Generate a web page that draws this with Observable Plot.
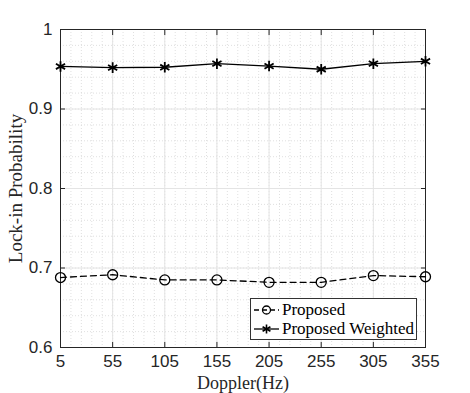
<!DOCTYPE html>
<html><head><meta charset="utf-8">
<script src="https://cdn.jsdelivr.net/npm/d3@7"></script>
<script src="https://cdn.jsdelivr.net/npm/@observablehq/plot@0.6"></script>
<style>
body{margin:0;background:#fff;}
#wrap{position:relative;width:470px;height:393px;}
svg text{font-family:"Liberation Sans",Arial,sans-serif;}
g[aria-label="x-axis label"] text{font-family:"Liberation Serif","DejaVu Serif",serif;font-size:18px;}
g[aria-label="y-axis label"] text{font-family:"Liberation Serif","DejaVu Serif",serif;font-size:19px;}
#legend{position:absolute;left:250px;top:298px;width:167px;height:42px;border:1px solid #333;background:#fff;box-sizing:border-box;font-family:"Liberation Serif","DejaVu Serif",serif;font-size:17px;padding-top:1px;}
#legend div{display:flex;align-items:center;height:19px;}
#legend svg{flex:none;}
</style></head>
<body><div id="wrap"></div>
<script>
const doppler = [5, 55, 105, 155, 205, 255, 305, 355];
const proposed = [0.688, 0.6915, 0.685, 0.685, 0.682, 0.682, 0.6905, 0.689];
const weighted = [0.9535, 0.952, 0.9525, 0.957, 0.954, 0.950, 0.957, 0.960];
const xTicks = [5, 55, 105, 155, 205, 255, 305, 355];
const yTicks = [0.6, 0.7, 0.8, 0.9, 1];
const xMinor = d3.range(5, 356, 10);
const yMinor = d3.range(0, 21).map(i => +(0.6 + i * 0.02).toFixed(2));
const seriesNames = ["Proposed", "Proposed Weighted"];

const dataP = doppler.map((d, i) => ({x: d, y: proposed[i]}));
const dataW = doppler.map((d, i) => ({x: d, y: weighted[i]}));

const chart = Plot.plot({
  width: 470, height: 393,
  marginLeft: 60, marginRight: 45, marginTop: 29, marginBottom: 46,
  style: {fontSize: "17px", color: "#262626", background: "#fff"},
  x: {domain: [5, 355]},
  y: {domain: [0.6, 1]},
  marks: [
    Plot.ruleX(xMinor, {stroke: "#d8d8d8", strokeDasharray: "1,2", strokeWidth: 0.8}),
    Plot.ruleY(yMinor, {stroke: "#d8d8d8", strokeDasharray: "1,2", strokeWidth: 0.8}),
    Plot.ruleX(xTicks, {stroke: "#e4e4e4", strokeWidth: 1}),
    Plot.ruleY(yTicks, {stroke: "#e4e4e4", strokeWidth: 1}),
    Plot.frame({stroke: "#262626", strokeWidth: 1}),
    Plot.axisX(xTicks, {tickSize: 0, tickPadding: 7, label: "Doppler(Hz)", labelAnchor: "center", labelOffset: 41, labelArrow: "none", fontSize: 17}),
    Plot.axisX(xTicks, {tickSize: 5, dy: -5, tickFormat: () => "", label: null}),
    Plot.axisX(xTicks, {anchor: "top", tickSize: 5, dy: 5, tickFormat: () => "", label: null}),
    Plot.axisY(yTicks, {tickSize: 0, tickPadding: 8, tickFormat: d => d === 1 ? "1" : d3.format(".1f")(d), label: "Lock-in Probability", labelAnchor: "center", labelOffset: 52, labelArrow: "none", fontSize: 17}),
    Plot.axisY(yTicks, {tickSize: 5, dx: 5, tickFormat: () => "", label: null}),
    Plot.axisY(yTicks, {anchor: "right", tickSize: 5, dx: -5, tickFormat: () => "", label: null}),
    Plot.line(dataP, {x: "x", y: "y", stroke: "#000", strokeWidth: 1.3, strokeDasharray: "6,4"}),
    Plot.dot(dataP, {x: "x", y: "y", r: 5, stroke: "#000", strokeWidth: 1.3, fill: "none"}),
    Plot.line(dataW, {x: "x", y: "y", stroke: "#000", strokeWidth: 1.3}),
    Plot.dot(dataW, {x: "x", y: "y", symbol: "asterisk", r: 5, stroke: "#000", strokeWidth: 1.8})
  ]
});
const wrap = document.getElementById("wrap");
wrap.appendChild(chart);

const leg = document.createElement("div");
leg.id = "legend";
leg.innerHTML = `
<div><svg width="31" height="19"><line x1="3" y1="10" x2="28" y2="10" stroke="#000" stroke-width="1.3" stroke-dasharray="5,3"/><circle cx="15.5" cy="10" r="4" fill="none" stroke="#000" stroke-width="1.3"/></svg><span>${seriesNames[0]}</span></div>
<div><svg width="31" height="19"><line x1="3" y1="10" x2="28" y2="10" stroke="#000" stroke-width="1.3"/><g stroke="#000" stroke-width="1.6"><line x1="15.5" y1="5.5" x2="15.5" y2="14.5"/><line x1="11.6" y1="7.75" x2="19.4" y2="12.25"/><line x1="11.6" y1="12.25" x2="19.4" y2="7.75"/></g></svg><span>${seriesNames[1]}</span></div>`;
wrap.appendChild(leg);
</script></body></html>
